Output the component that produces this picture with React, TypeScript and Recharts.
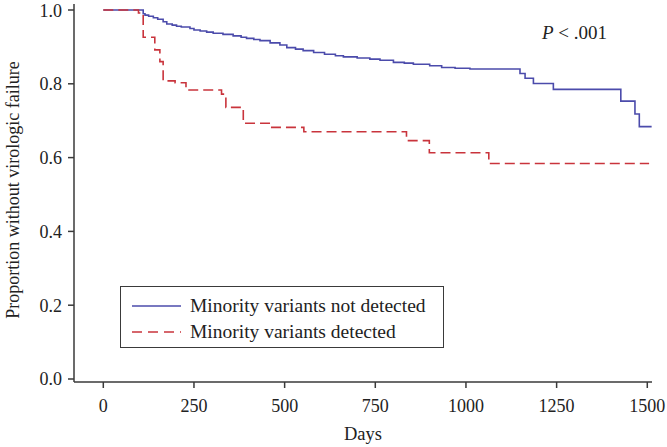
import { LineChart, Line, XAxis, YAxis, Legend } from 'recharts';

const notDetectedDays = [
  0, 110, 115, 125, 138, 150, 165, 175, 190, 202, 215, 239, 250, 267, 285, 303, 330, 358, 380, 395, 415, 432,
  460, 487, 506, 530, 551, 580, 610, 640, 662, 700, 735, 763, 800, 830, 855, 900, 933, 970, 1011, 1149, 1163,
  1186, 1241, 1427, 1466, 1478, 1512,
];
const notDetectedSurv = [
  1.0, 0.99, 0.986, 0.983, 0.979, 0.975, 0.968, 0.962, 0.959, 0.956, 0.954, 0.95, 0.946, 0.943, 0.94, 0.937,
  0.934, 0.93, 0.926, 0.923, 0.92, 0.917, 0.911, 0.905, 0.898, 0.894, 0.89, 0.885, 0.88, 0.876, 0.873, 0.87,
  0.867, 0.864, 0.858, 0.856, 0.853, 0.849, 0.844, 0.842, 0.84, 0.828, 0.815, 0.801, 0.785, 0.753, 0.718,
  0.684, 0.684,
];

const detectedDays = [0, 97, 110, 142, 156, 165, 198, 228, 326, 338, 386, 462, 553, 836, 899, 1063, 1505];
const detectedSurv = [
  1.0, 0.992, 0.926, 0.892, 0.86, 0.808, 0.803, 0.783, 0.772, 0.736, 0.693, 0.682, 0.67, 0.646, 0.613, 0.584,
  0.584,
];

const xTicks = [0, 250, 500, 750, 1000, 1250, 1500];
const yTicks = [0, 0.2, 0.4, 0.6, 0.8, 1.0];

const BLUE = '#4b4bab';
const RED = '#c9343c';
const INK = '#3a3a3a';
const FONT = '"Liberation Serif", "DejaVu Serif", serif';

const notDetected = notDetectedDays.map((d, i) => ({ day: d, s: notDetectedSurv[i] }));
const detected = detectedDays.map((d, i) => ({ day: d, s: detectedSurv[i] }));

const legendItems = [
  { label: 'Minority variants not detected', color: BLUE, dash: undefined },
  { label: 'Minority variants detected', color: RED, dash: '10 6' },
];

function KmLegend() {
  return (
    <div
      style={{
        width: 324,
        height: 62,
        boxSizing: 'border-box',
        border: `1.5px solid ${INK}`,
        background: '#fff',
        fontFamily: FONT,
        fontSize: 19.5,
        color: '#222',
        paddingTop: 6,
      }}
    >
      {legendItems.map((it) => (
        <div key={it.label} style={{ display: 'flex', alignItems: 'center', height: 26 }}>
          <svg width={69} height={10} style={{ flex: 'none' }}>
            <line x1={11} y1={5} x2={60} y2={5} stroke={it.color} strokeWidth={1.6} strokeDasharray={it.dash} />
          </svg>
          <span>{it.label}</span>
        </div>
      ))}
    </div>
  );
}

export default function App() {
  return (
    <div style={{ position: 'absolute', left: 0, top: 0, width: 667, height: 447, background: '#fff' }}>
      <LineChart width={667} height={447} margin={{ top: 4, right: 15, bottom: 0, left: 0 }}>
        <XAxis
          dataKey="day"
          type="number"
          domain={[-80.8, 1513]}
          allowDataOverflow
          ticks={xTicks}
          stroke={INK}
          strokeWidth={1.5}
          tickSize={6}
          tickMargin={11}
          height={65}
          tick={{ fill: '#222', fontSize: 18, fontFamily: FONT }}
          label={{ value: 'Days', position: 'insideBottom', offset: 7, fill: '#222', fontSize: 18.5, fontFamily: FONT }}
        />
        <XAxis xAxisId="top" orientation="top" type="number" domain={[-80.8, 1513]} height={0} tick={false} tickLine={false} stroke={INK} strokeWidth={1.5} />
        <YAxis
          type="number"
          domain={[-0.00813, 1.01626]}
          allowDataOverflow
          ticks={yTicks}
          tickFormatter={(v: number) => v.toFixed(1)}
          stroke={INK}
          strokeWidth={1.5}
          tickSize={6}
          tickMargin={6}
          width={74}
          tick={{ fill: '#222', fontSize: 18, fontFamily: FONT }}
          label={{
            value: 'Proportion without virologic failure',
            angle: -90,
            position: 'center',
            dx: -24,
            dy: -3,
            fill: '#222',
            fontSize: 18,
            fontFamily: FONT,
          }}
        />
        <YAxis yAxisId="right" orientation="right" width={0} tick={false} tickLine={false} stroke={INK} strokeWidth={1.5} />
        <Legend
          layout="vertical"
          align="center"
          verticalAlign="middle"
          content={() => <KmLegend />}
          wrapperStyle={{ left: 120, top: 286, width: 324, height: 62 }}
        />
        <Line
          data={notDetected}
          dataKey="s"
          type="stepAfter"
          stroke={BLUE}
          strokeWidth={1.6}
          dot={false}
          activeDot={false}
          isAnimationActive={false}
        />
        <Line
          data={detected}
          dataKey="s"
          type="stepAfter"
          stroke={RED}
          strokeWidth={1.6}
          strokeDasharray="10 5"
          dot={false}
          activeDot={false}
          isAnimationActive={false}
        />
      </LineChart>
      <div
        style={{
          position: 'absolute',
          left: 542,
          top: 22,
          fontFamily: FONT,
          fontSize: 19,
          color: '#222',
          whiteSpace: 'nowrap',
        }}
      >
        <i>P</i> &lt; .001
      </div>
    </div>
  );
}
